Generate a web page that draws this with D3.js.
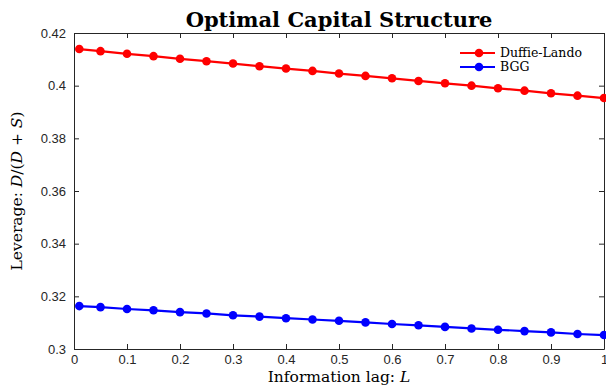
<!DOCTYPE html>
<html lang="en">
<head>
    <meta charset="UTF-8">
    <title>Optimal Capital Structure</title>
    <script src="https://d3js.org/d3.v7.min.js"></script>
    <style>
        body { margin: 0; background: #fff; }
        .tick text { font-family: "Liberation Sans", Arial, sans-serif; font-size: 13px; fill: #262626; }
        .serif { font-family: "DejaVu Serif", "Liberation Serif", serif; fill: #000; }
    </style>
</head>
<body>
    <div id="chart"></div>
    <script>
        // Information lag L
        const lags = [0.01, 0.05, 0.1, 0.15, 0.2, 0.25, 0.3, 0.35, 0.4, 0.45, 0.5,
                      0.55, 0.6, 0.65, 0.7, 0.75, 0.8, 0.85, 0.9, 0.95, 1];
        const duffieLando = [0.4139, 0.4131, 0.4121, 0.4112, 0.4102, 0.4093, 0.4084, 0.4074, 0.4065, 0.4056, 0.4046,
                             0.4037, 0.4028, 0.4018, 0.4009, 0.4000, 0.3990, 0.3981, 0.3971, 0.3962, 0.3953];
        const bgg = [0.3163, 0.3159, 0.3152, 0.3147, 0.3140, 0.3135, 0.3128, 0.3123, 0.3117, 0.3112, 0.3107,
                     0.3101, 0.3095, 0.3090, 0.3084, 0.3078, 0.3073, 0.3068, 0.3063, 0.3057, 0.3053];
        const xTicks = [0, 0.1, 0.2, 0.3, 0.4, 0.5, 0.6, 0.7, 0.8, 0.9, 1];
        const yTicks = [0.3, 0.32, 0.34, 0.36, 0.38, 0.4, 0.42];

        const series = [
            { name: 'Duffie-Lando', values: duffieLando, color: '#ff0000' },
            { name: 'BGG', values: bgg, color: '#0000ff' }
        ];

        const width = 606, height = 386;
        const margin = { top: 33, right: 2, bottom: 37, left: 74 };
        const w = width - margin.left - margin.right;
        const h = height - margin.top - margin.bottom;

        const svg = d3.select('#chart').append('svg')
            .attr('width', width)
            .attr('height', height);

        const g = svg.append('g')
            .attr('transform', `translate(${margin.left},${margin.top})`);

        const x = d3.scaleLinear().domain([0, 1]).range([0, w]);
        const y = d3.scaleLinear().domain([0.3, 0.42]).range([h, 0]);

        // axes, ticks pointing inward on all four sides
        const fmt = d => String(+d.toFixed(2));
        const axes = [
            g.append('g').attr('transform', `translate(0,${h})`)
                .call(d3.axisBottom(x).tickValues(xTicks).tickFormat(fmt).tickSizeInner(-5).tickSizeOuter(0).tickPadding(6)),
            g.append('g').call(d3.axisTop(x).tickValues(xTicks).tickFormat('').tickSizeInner(-5).tickSizeOuter(0)),
            g.append('g').call(d3.axisLeft(y).tickValues(yTicks).tickFormat(fmt).tickSizeInner(-5).tickSizeOuter(0).tickPadding(8)),
            g.append('g').attr('transform', `translate(${w},0)`)
                .call(d3.axisRight(y).tickValues(yTicks).tickFormat('').tickSizeInner(-5).tickSizeOuter(0))
        ];
        axes.forEach(a => {
            a.selectAll('path, line').attr('stroke', '#262626').attr('stroke-width', 1);
            a.selectAll('.tick text').attr('font-family', null).attr('font-size', null);
        });

        const line = d3.line()
            .x((d, i) => x(lags[i]))
            .y(d => y(d));

        series.forEach(s => {
            g.append('path')
                .datum(s.values)
                .attr('fill', 'none')
                .attr('stroke', s.color)
                .attr('stroke-width', 2.2)
                .attr('d', line);

            g.selectAll(null)
                .data(s.values)
                .enter().append('circle')
                .attr('cx', (d, i) => x(lags[i]))
                .attr('cy', d => y(d))
                .attr('r', 4.3)
                .attr('fill', s.color);
        });

        // legend
        const legend = g.append('g').attr('transform', `translate(${386},${20})`);
        series.forEach((s, i) => {
            const row = legend.append('g').attr('transform', `translate(0,${i * 14})`);
            row.append('line').attr('x1', 0).attr('x2', 35).attr('stroke', s.color).attr('stroke-width', 2.2);
            row.append('circle').attr('cx', 19).attr('r', 4.3).attr('fill', s.color);
            row.append('text').attr('class', 'serif').attr('x', 40).attr('dy', '0.35em')
                .attr('font-size', 12.5).text(s.name);
        });

        // title
        svg.append('text').attr('class', 'serif')
            .attr('x', margin.left + w / 2).attr('y', 27)
            .attr('text-anchor', 'middle')
            .attr('font-size', 21).attr('font-weight', 'bold')
            .text('Optimal Capital Structure');

        // x label
        const xl = svg.append('text').attr('class', 'serif')
            .attr('x', margin.left + w / 2).attr('y', 382)
            .attr('text-anchor', 'middle').attr('font-size', 15.5);
        xl.append('tspan').text('Information lag:  ');
        xl.append('tspan').attr('font-style', 'italic').text('L');

        // y label
        const yl = svg.append('text').attr('class', 'serif')
            .attr('transform', `translate(22,${margin.top + h / 2}) rotate(-90)`)
            .attr('text-anchor', 'middle').attr('font-size', 15.5);
        yl.append('tspan').text('Leverage:  ');
        yl.append('tspan').attr('font-style', 'italic').text('D');
        yl.append('tspan').text('/(');
        yl.append('tspan').attr('font-style', 'italic').text('D');
        yl.append('tspan').text(' + ');
        yl.append('tspan').attr('font-style', 'italic').text('S');
        yl.append('tspan').text(')');
    </script>
</body>
</html>
